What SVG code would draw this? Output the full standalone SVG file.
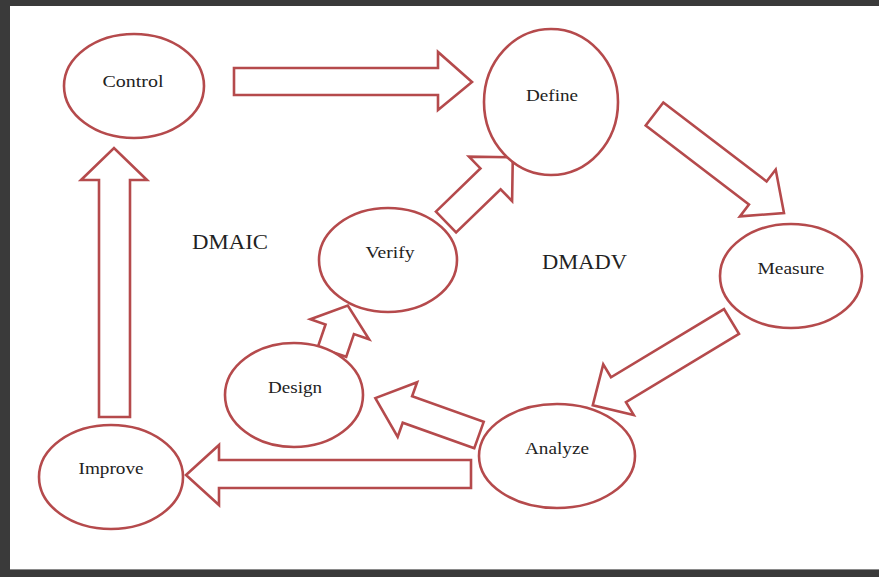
<svg xmlns="http://www.w3.org/2000/svg" width="879" height="577" viewBox="0 0 879 577">
<style>
.node ellipse{fill:#ffffff;stroke:#b54a4c;stroke-width:2.6}
.node text{font-family:"Liberation Serif","Times New Roman",serif;font-size:16px;fill:#222;text-anchor:middle}
.lbl{font-family:"Liberation Serif","Times New Roman",serif;font-size:20px;fill:#222;text-anchor:middle}
.arrow{fill:#ffffff;stroke:#b54a4c;stroke-width:2.6;stroke-linejoin:miter}
.frame{fill:#3a3a3a}
</style>
<rect x="0" y="0" width="879" height="577" fill="#ffffff"/>
<g id="frame">
<rect class="frame" x="0" y="0" width="879" height="6"/>
<rect class="frame" x="0" y="0" width="10" height="577"/>
<rect class="frame" x="0" y="570" width="879" height="7"/>
<line x1="10" y1="569.5" x2="879" y2="569.5" stroke="#8a8a8a" stroke-width="1"/>
</g>
<g id="connectors">
<polygon class="arrow" points="234,68 438,68 438,52 472,82 438,110 438,95 234,95"/>
<polygon class="arrow" transform="translate(654.5,114) rotate(37.4)" points="0,-14.5 130,-14.5 130,-29.5 163,0 130,29.5 130,14.5 0,14.5"/>
<polygon class="arrow" transform="translate(731.5,321.5) rotate(148.9)" points="0,-14.5 132,-14.5 132,-29.5 162,0 132,29.5 132,14.5 0,14.5"/>
<polygon class="arrow" points="471,460 219,460 219,445 186,475 219,505 219,488 471,488"/>
<polygon class="arrow" points="99,417 99,180 81,180 114,148 147,180 130,180 130,417"/>
<polygon class="arrow" transform="translate(479,435) rotate(199.6)" points="0,-14 76,-14 76,-29 110,0 76,29 76,14 0,14"/>
<polygon class="arrow" transform="translate(332,352) rotate(-71.2)" points="0,-15 24,-15 24,-31 49,0 24,31 24,15 0,15"/>
<polygon class="arrow" transform="translate(446,222) rotate(-44.1)" points="0,-14.5 62,-14.5 62,-31 93,0 62,31 62,14.5 0,14.5"/>
</g>
<g id="control" class="node">
<ellipse cx="134" cy="86" rx="70" ry="52"/>
<text x="133" y="87" textLength="61" lengthAdjust="spacingAndGlyphs">Control</text>
</g>
<g id="define" class="node">
<ellipse cx="551" cy="102" rx="67" ry="73"/>
<text x="552" y="101" textLength="52" lengthAdjust="spacingAndGlyphs">Define</text>
</g>
<g id="measure" class="node">
<ellipse cx="791" cy="276" rx="71" ry="52"/>
<text x="791" y="274" textLength="67" lengthAdjust="spacingAndGlyphs">Measure</text>
</g>
<g id="analyze" class="node">
<ellipse cx="557" cy="456" rx="78" ry="52"/>
<text x="557" y="454" textLength="64" lengthAdjust="spacingAndGlyphs">Analyze</text>
</g>
<g id="improve" class="node">
<ellipse cx="111" cy="477" rx="72" ry="52"/>
<text x="111" y="474" textLength="65" lengthAdjust="spacingAndGlyphs">Improve</text>
</g>
<g id="design" class="node">
<ellipse cx="294" cy="395" rx="69" ry="52"/>
<text x="295" y="393" textLength="54" lengthAdjust="spacingAndGlyphs">Design</text>
</g>
<g id="verify" class="node">
<ellipse cx="388" cy="260" rx="69" ry="52"/>
<text x="390" y="258" textLength="49" lengthAdjust="spacingAndGlyphs">Verify</text>
</g>
<g id="labels">
<text class="lbl" x="230" y="249" textLength="76" lengthAdjust="spacingAndGlyphs">DMAIC</text>
<text class="lbl" x="584.5" y="269" textLength="85" lengthAdjust="spacingAndGlyphs">DMADV</text>
</g>
</svg>
